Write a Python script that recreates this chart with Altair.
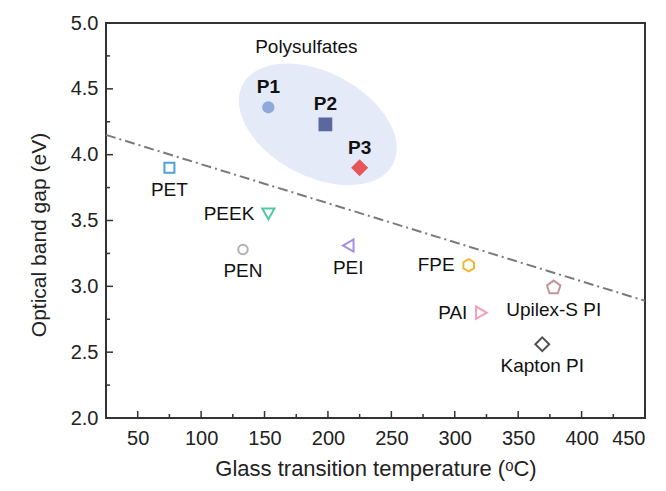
import altair as alt
import pandas as pd

# ---- data ----
names  = ["P1", "P2", "P3", "PET", "PEEK", "PEN", "PEI", "FPE", "Upilex-S PI", "PAI", "Kapton PI"]
tg     = [153, 198, 225, 75, 153, 133, 216, 311, 378, 321, 369]
gap    = [4.36, 4.23, 3.90, 3.90, 3.55, 3.28, 3.31, 3.16, 2.99, 2.80, 2.56]
placement = ["above", "above", "above", "below", "left", "below", "below", "left", "below", "left", "below"]
colors = ["#8ea8dc", "#5a689f", "#e85558", "#4da3d8", "#52c9a0", "#b0b0b0",
          "#a48de0", "#f2b630", "#c49595", "#f0a0b8", "#505050"]

fit_x = [25, 450]
fit_y = [4.15, 2.89]

group_label = ["Polysulfates"]
group_x = [183]
group_y = [4.82]
ellipse_x = [192]
ellipse_y = [4.23]

x_major = [50, 100, 150, 200, 250, 300, 350, 400, 450]
x_minor = [75, 125, 175, 225, 275, 325, 375, 425]
y_major = [2.0, 2.5, 3.0, 3.5, 4.0, 4.5, 5.0]
y_minor = [2.25, 2.75, 3.25, 3.75, 4.25, 4.75]

# ---- styles ----
HEX = "M0,-1L0.866,-0.5L0.866,0.5L0,1L-0.866,0.5L-0.866,-0.5Z"
PENT = "M0,-1L0.951,-0.309L0.588,0.809L-0.588,0.809L-0.951,-0.309Z"
ELLIPSE = "M-1,0A1,0.612,0,1,1,1,0A1,0.612,0,1,1,-1,0Z"
shapes = ["circle", "square", "diamond", "square", "triangle-down", "circle",
          "triangle-left", HEX, PENT, "triangle-right", "diamond"]
sizes = [150, 190, 290, 100, 150, 90, 150, 150, 200, 150, 190]

W, H = 539, 395
FONT = "Liberation Sans"

df = pd.DataFrame({"name": names, "tg": tg, "gap": gap, "pos": placement, "sz": sizes})
df["filled"] = df["name"].isin(["P1", "P2", "P3"])

xs = alt.Scale(domain=[25, 450], nice=False, zero=False)
ys = alt.Scale(domain=[2.0, 5.0], nice=False, zero=False)

X = alt.X("tg:Q", scale=xs, axis=alt.Axis(values=x_major, title="Glass transition temperature (ᵒC)",
                                           ticks=False, domain=False, grid=False,
                                           labelPadding=10, titlePadding=10, titleFontSize=22))
Y = alt.Y("gap:Q", scale=ys, axis=alt.Axis(values=y_major, format=".1f", title="Optical band gap (eV)",
                                            ticks=False, domain=False, grid=False,
                                            labelPadding=8, titlePadding=21, titleY=H / 2 + 14))

color = alt.Color("name:N", scale=alt.Scale(domain=names, range=colors), legend=None)
shape = alt.Shape("name:N", scale=alt.Scale(domain=names, range=shapes), legend=None)
size = alt.Size("sz:Q", scale=None, legend=None)

ell = alt.Chart(pd.DataFrame({"tg": ellipse_x, "gap": ellipse_y})).mark_point(
    shape=ELLIPSE, size=170 ** 2, angle=28, filled=True, color="#e4eaf7", opacity=1
).encode(x=alt.X("tg:Q", scale=xs), y=alt.Y("gap:Q", scale=ys))

fit = alt.Chart(pd.DataFrame({"tg": fit_x, "gap": fit_y})).mark_line(
    color="#7a7a7a", strokeWidth=2, strokeDash=[10, 4, 2, 4]
).encode(x=alt.X("tg:Q", scale=xs), y=alt.Y("gap:Q", scale=ys))

base = alt.Chart(df)
filled_pts = base.transform_filter("datum.filled").mark_point(filled=True, opacity=1).encode(
    x=X, y=Y, color=color, shape=shape, size=size)
open_pts = base.transform_filter("!datum.filled").mark_point(filled=False, strokeWidth=2, opacity=1).encode(
    x=alt.X("tg:Q", scale=xs), y=alt.Y("gap:Q", scale=ys), color=color, shape=shape, size=size)

txt_above = base.transform_filter("datum.pos == 'above'").mark_text(
    dy=-20, fontSize=19, fontWeight="bold", font=FONT, color="#111"
).encode(x=alt.X("tg:Q", scale=xs), y=alt.Y("gap:Q", scale=ys), text="name:N")
txt_below = base.transform_filter("datum.pos == 'below'").mark_text(
    dy=22, fontSize=19, font=FONT, color="#111"
).encode(x=alt.X("tg:Q", scale=xs), y=alt.Y("gap:Q", scale=ys), text="name:N")
txt_left = base.transform_filter("datum.pos == 'left'").mark_text(
    dx=-14, align="right", fontSize=19, font=FONT, color="#111"
).encode(x=alt.X("tg:Q", scale=xs), y=alt.Y("gap:Q", scale=ys), text="name:N")

grp = alt.Chart(pd.DataFrame({"t": group_label, "tg": group_x, "gap": group_y})).mark_text(
    fontSize=19, font=FONT, color="#111"
).encode(x=alt.X("tg:Q", scale=xs), y=alt.Y("gap:Q", scale=ys), text="t:N")

TICKC = "#333"
xmaj = alt.Chart(pd.DataFrame({"v": x_major})).mark_rule(color=TICKC, strokeWidth=1.5).encode(
    x=alt.X("v:Q", scale=xs), y=alt.value(H), y2=alt.value(H - 7))
xmin = alt.Chart(pd.DataFrame({"v": x_minor})).mark_rule(color=TICKC, strokeWidth=1.5).encode(
    x=alt.X("v:Q", scale=xs), y=alt.value(H), y2=alt.value(H - 4))
ymaj = alt.Chart(pd.DataFrame({"v": y_major})).mark_rule(color=TICKC, strokeWidth=1.5).encode(
    y=alt.Y("v:Q", scale=ys), x=alt.value(0), x2=alt.value(7))
ymin = alt.Chart(pd.DataFrame({"v": y_minor})).mark_rule(color=TICKC, strokeWidth=1.5).encode(
    y=alt.Y("v:Q", scale=ys), x=alt.value(0), x2=alt.value(4))

chart = alt.layer(
    filled_pts, ell, fit, xmaj, xmin, ymaj, ymin, open_pts, filled_pts, txt_above, txt_below, txt_left, grp
).properties(
    width=W, height=H,
    autosize=alt.AutoSizeParams(type="none"),
    padding={"left": 106, "top": 23, "right": 21, "bottom": 73},
    background="white",
).configure_view(
    stroke="#333", strokeWidth=2
).configure_axis(
    labelFont=FONT, titleFont=FONT, labelFontSize=20, titleFontSize=21,
    labelColor="#222", titleColor="#222", titleFontWeight="normal"
)

chart.save("out.html", embed_options={"renderer": "svg", "actions": False})
